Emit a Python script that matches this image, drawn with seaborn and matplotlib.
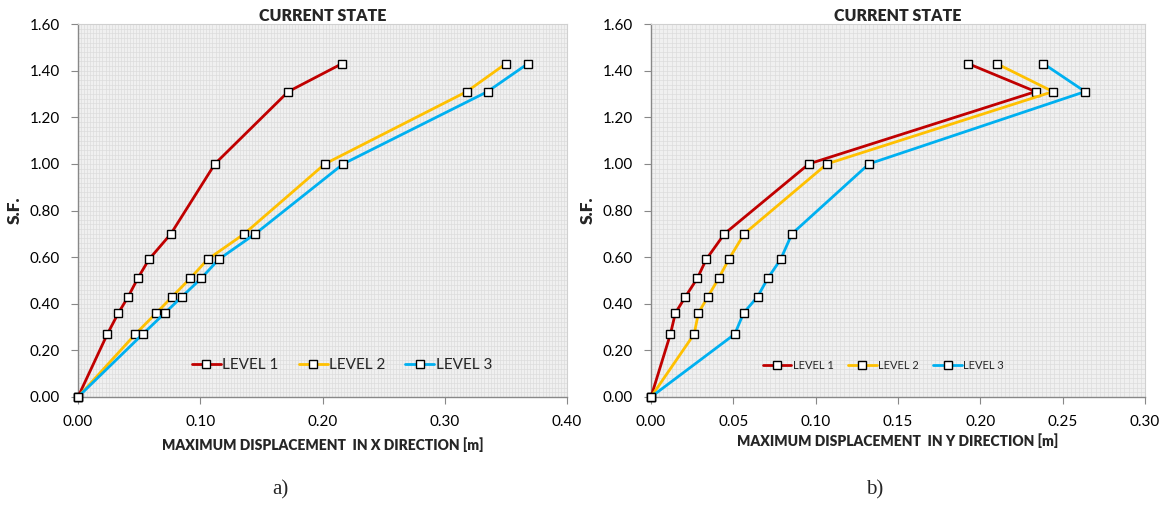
import numpy as np
import pandas as pd
import matplotlib
matplotlib.use("Agg")
import matplotlib.pyplot as plt
from matplotlib.ticker import MultipleLocator, FormatStrFormatter
import seaborn as sns

# ---- data ----
sf = [0.00, 0.27, 0.36, 0.43, 0.51, 0.59, 0.70, 1.00, 1.31, 1.43]
levels = ["LEVEL 1", "LEVEL 2", "LEVEL 3"]

x_level1 = [0.000, 0.024, 0.033, 0.041, 0.049, 0.058, 0.076, 0.112, 0.172, 0.216]
x_level2 = [0.000, 0.047, 0.064, 0.077, 0.092, 0.106, 0.136, 0.202, 0.318, 0.350]
x_level3 = [0.000, 0.053, 0.071, 0.085, 0.101, 0.115, 0.145, 0.217, 0.335, 0.368]

y_level1 = [0.000, 0.0118, 0.0148, 0.0209, 0.0282, 0.0335, 0.0446, 0.0959, 0.2336, 0.1926]
y_level2 = [0.000, 0.0262, 0.0288, 0.0345, 0.0412, 0.0472, 0.0566, 0.1069, 0.2441, 0.2099]
y_level3 = [0.000, 0.0509, 0.0562, 0.0647, 0.0710, 0.0787, 0.0856, 0.1324, 0.2636, 0.2383]

colors = ["#C00000", "#FFC000", "#00B0F0"]

sns.set_theme(style="white")
plt.rcParams['font.family'] = ['Lato', 'DejaVu Sans']

fig = plt.figure(figsize=(11.68, 5.09), dpi=100)
ax1 = fig.add_axes([78/1168, 1-397/509, (567-78)/1168, (397-24)/509])
ax2 = fig.add_axes([651/1168, 1-397/509, (1145-651)/1168, (397-24)/509])


def draw(ax, xs, xmax, xstep, xminor, xlabel, legsize, legx, xlpad, cs, hl, ms):
    ax.set_facecolor("#F0F0F0")
    for xv, lab, c in zip(xs, levels, colors):
        df = pd.DataFrame({"disp": xv, "sf": sf})
        sns.lineplot(data=df, x="disp", y="sf", ax=ax, sort=False, color=c,
                     lw=2.0, marker="s", markersize=5.2, markerfacecolor="white",
                     markeredgecolor="black", markeredgewidth=1.0, label=lab,
                     zorder=3, clip_on=False)
    ax.set_xlim(0, xmax)
    ax.set_ylim(0, 1.6)
    ax.xaxis.set_major_locator(MultipleLocator(xstep))
    ax.yaxis.set_major_locator(MultipleLocator(0.2))
    ax.xaxis.set_minor_locator(MultipleLocator(xminor))
    ax.yaxis.set_minor_locator(MultipleLocator(0.02))
    ax.xaxis.set_major_formatter(FormatStrFormatter("%.2f"))
    ax.yaxis.set_major_formatter(FormatStrFormatter("%.2f"))
    ax.grid(which="both", color="#DCDCDC", lw=0.5)
    ax.tick_params(which="minor", length=0)
    ax.tick_params(which="major", length=5, width=0.8, color="#888888",
                   labelsize=11, colors="#888888", labelcolor="black", direction="out",
                   bottom=True, left=True)
    ax.tick_params(axis="x", pad=8)
    ax.tick_params(axis="y", pad=8)
    for s in ["left", "bottom"]:
        ax.spines[s].set_color("#888888")
        ax.spines[s].set_linewidth(1.0)
    for s in ["top", "right"]:
        ax.spines[s].set_color("#D0D0D0")
        ax.spines[s].set_linewidth(0.8)
    ax.set_xlabel(xlabel, fontsize=10, fontweight="heavy", labelpad=xlpad)
    ax.set_ylabel("S.F.", fontsize=12.5, fontweight="heavy", labelpad=5)
    ax.set_title("CURRENT STATE", fontsize=11.5, fontweight="heavy", pad=2)
    leg = ax.legend(loc="center", bbox_to_anchor=(legx, 0.085), ncol=3, frameon=False,
                    fontsize=legsize, handlelength=hl, columnspacing=cs,
                    handletextpad=0.1, borderaxespad=0, markerscale=ms)
    return leg


draw(ax1, [x_level1, x_level2, x_level3], 0.40, 0.10, 0.0025,
     "MAXIMUM DISPLACEMENT  IN X DIRECTION [m]", 11, 0.54, 6, 1.3, 1.9, 1.0)
draw(ax2, [y_level1, y_level2, y_level3], 0.30, 0.05, 0.0025,
     "MAXIMUM DISPLACEMENT  IN Y DIRECTION [m]", 8, 0.47, 3, 1.3, 2.6, 1.0)

fig.text(280/1168, 1-490/509, "a)", fontsize=15, family="Liberation Serif",
         ha="center", va="center")
fig.text(875/1168, 1-490/509, "b)", fontsize=15, family="Liberation Serif",
         ha="center", va="center")

fig.savefig("out.png", dpi=100)
